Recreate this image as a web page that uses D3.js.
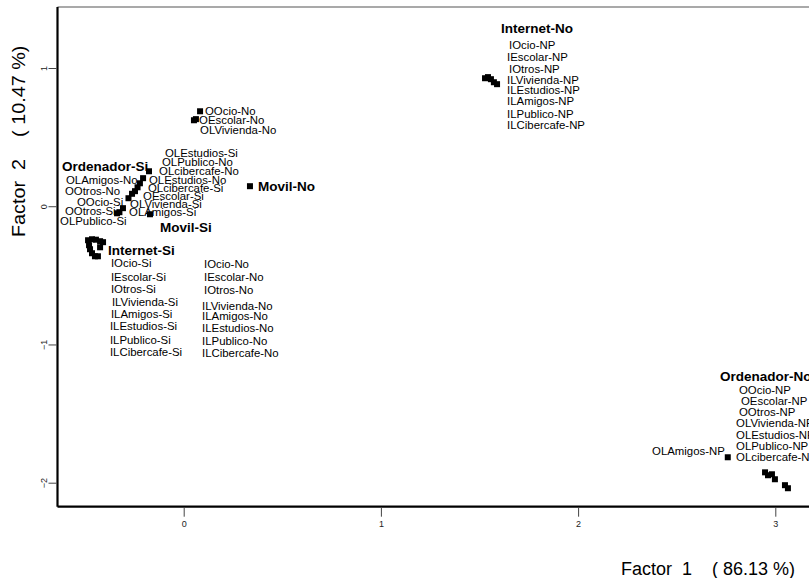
<!DOCTYPE html>
<html><head><meta charset="utf-8">
<script src="https://cdn.jsdelivr.net/npm/d3@7"></script>
<style>
html,body{margin:0;padding:0;background:#fff;}
svg{display:block;font-family:"Liberation Sans",Arial,sans-serif;}
</style></head>
<body><div id="chart"></div>
<script>
// ---- data: MCA coordinates (Factor 1, Factor 2) ----
const pointNames = ["OOcio-No","OEscolar-No","OLVivienda-No","Ordenador-Si","OLEstudios-No","OLPublico-No","OLcibercafe-No","OLEstudios-Si","OLcibercafe-Si","OEscolar-Si","OLVivienda-Si","OOtros-Si","OOcio-Si","Movil-Si","Movil-No",
 "Internet-Si","IOcio-Si","IEscolar-Si","IOtros-Si","ILVivienda-Si","ILAmigos-Si","ILEstudios-Si","ILPublico-Si","ILCibercafe-Si","IOcio-No","IEscolar-No",
 "Internet-No","IOcio-NP","IEscolar-NP","IOtros-NP","ILVivienda-NP",
 "OLAmigos-NP","Ordenador-No","OOcio-NP","OEscolar-NP","OOtros-NP","OLVivienda-NP","OLPublico-NP"];
const factor1 = [0.083,0.052,0.062,-0.176,-0.206,-0.222,-0.234,-0.247,-0.262,-0.280,-0.308,-0.326,-0.338,-0.171,0.336,
 -0.485,-0.465,-0.445,-0.424,-0.409,-0.480,-0.475,-0.465,-0.450,-0.435,-0.424,
 1.528,1.543,1.558,1.573,1.589,
 2.759,2.948,2.963,2.983,2.998,3.049,3.064];
const factor2 = [0.687,0.622,0.630,0.253,0.203,0.166,0.137,0.109,0.090,0.058,-0.014,-0.043,-0.051,-0.058,0.145,
 -0.246,-0.239,-0.242,-0.253,-0.260,-0.282,-0.311,-0.340,-0.362,-0.362,-0.297,
 0.926,0.934,0.919,0.897,0.883,
 -1.816,-1.925,-1.946,-1.939,-1.975,-2.018,-2.040];

// ---- label texts and their anchor coordinates (in factor units) ----
const labelTexts = ["OOcio-No","OEscolar-No","OLVivienda-No","OLEstudios-Si","OLPublico-No","OLcibercafe-No","OLEstudios-No","OLcibercafe-Si","OEscolar-Si","OLVivienda-Si","OLAmigos-Si",
 "Ordenador-Si","OLAmigos-No","OOtros-No","OOcio-Si","OOtros-Si","OLPublico-Si","Movil-Si","Movil-No",
 "Internet-Si","IOcio-Si","IEscolar-Si","IOtros-Si","ILVivienda-Si","ILAmigos-Si","ILEstudios-Si","ILPublico-Si","ILCibercafe-Si",
 "IOcio-No","IEscolar-No","IOtros-No","ILVivienda-No","ILAmigos-No","ILEstudios-No","ILPublico-No","ILCibercafe-No",
 "Internet-No","IOcio-NP","IEscolar-NP","IOtros-NP","ILVivienda-NP","ILEstudios-NP","ILAmigos-NP","ILPublico-NP","ILCibercafe-NP",
 "Ordenador-No","OOcio-NP","OEscolar-NP","OOtros-NP","OLVivienda-NP","OLEstudios-NP","OLPublico-NP","OLcibercafe-NP","OLAmigos-NP"];
const labelF1 = [0.108,0.078,0.083,-0.095,-0.110,-0.125,-0.176,-0.181,-0.206,-0.272,-0.277,
 -0.617,-0.597,-0.602,-0.541,-0.602,-0.627,-0.120,0.377,
 -0.384,-0.369,-0.369,-0.369,-0.364,-0.369,-0.374,-0.374,-0.374,
 0.103,0.103,0.103,0.093,0.093,0.093,0.093,0.093,
 1.609,1.650,1.640,1.650,1.640,1.640,1.640,1.640,1.640,
 2.720,2.816,2.826,2.816,2.801,2.801,2.801,2.801,2.375];
const labelF2 = [0.687,0.622,0.550,0.384,0.318,0.253,0.188,0.130,0.072,0.014,-0.043,
 0.289,0.188,0.109,0.029,-0.036,-0.109,-0.152,0.145,
 -0.318,-0.412,-0.514,-0.601,-0.695,-0.781,-0.868,-0.970,-1.056,
 -0.420,-0.514,-0.608,-0.724,-0.796,-0.883,-0.977,-1.064,
 1.288,1.165,1.078,0.991,0.912,0.839,0.760,0.666,0.586,
 -1.230,-1.331,-1.411,-1.491,-1.570,-1.657,-1.737,-1.816,-1.773];
const boldLabels = ["Ordenador-Si","Ordenador-No","Internet-Si","Internet-No","Movil-Si","Movil-No"];

const xTicks = [0,1,2,3];
const yTicks = [-2,-1,0,1];
const xTitleParts = ["Factor","1","( 86.13 %)"];
const yTitleParts = ["Factor","2","( 10.47 %)"];

// ---- layout ----
const W = 809, H = 578;
const x = d3.scaleLinear().domain([0,3]).range([183.7,775.3]);
const y = d3.scaleLinear().domain([-2,1]).range([482.7,68]);
const frame = {left:57.5, top:7, bottom:506.7, right:840};

const svg = d3.select("#chart").append("svg").attr("width",W).attr("height",H);
svg.append("rect").attr("width",W).attr("height",H).attr("fill","#fff");

// frame
svg.append("line").attr("x1",frame.left).attr("x2",frame.right).attr("y1",frame.top).attr("y2",frame.top)
  .attr("stroke","#555").attr("stroke-width",1.2);
svg.append("line").attr("x1",frame.left).attr("x2",frame.left).attr("y1",frame.top).attr("y2",frame.bottom)
  .attr("stroke","#000").attr("stroke-width",2.2);
svg.append("line").attr("x1",frame.left).attr("x2",frame.right).attr("y1",frame.bottom).attr("y2",frame.bottom)
  .attr("stroke","#000").attr("stroke-width",2.2);

// x axis
const xAxis = d3.axisBottom(x).tickValues(xTicks).tickSize(9).tickSizeOuter(0).tickPadding(4).tickFormat(d3.format("d"));
const gx = svg.append("g").attr("transform",`translate(0,${frame.bottom+1})`).call(xAxis);
gx.select(".domain").remove();
gx.selectAll("line").attr("stroke","#444");
gx.selectAll("text").attr("font-size",9).attr("fill","#222").attr("font-family","Liberation Sans Narrow, Liberation Sans, Arial");

// y axis
const yAxis = d3.axisLeft(y).tickValues(yTicks).tickSize(8).tickSizeOuter(0).tickPadding(3).tickFormat(d3.format("d"));
const gy = svg.append("g").attr("transform",`translate(${frame.left-1},0)`).call(yAxis);
gy.select(".domain").remove();
gy.selectAll("line").attr("stroke","#444");
gy.selectAll("text").attr("font-size",9).attr("fill","#222")
  .attr("font-family","Liberation Sans Narrow, Liberation Sans, Arial")
  .attr("text-anchor","middle").attr("x",null).attr("dy",null)
  .attr("transform","translate(-13,0) rotate(-90)")
  .attr("dominant-baseline","central");

// titles (pieces spaced like the original)
const titleOffsets = [0, 61, 91];
const xt = svg.append("g").attr("transform","translate(621,575)");
xt.selectAll("text").data(xTitleParts).join("text")
  .attr("x",(d,i)=>titleOffsets[i]).attr("font-size",18).attr("fill","#000").text(d=>d);
const yt = svg.append("g").attr("transform","translate(25,237) rotate(-90) scale(1.1,1)");
yt.selectAll("text").data(yTitleParts).join("text")
  .attr("x",(d,i)=>titleOffsets[i]).attr("font-size",18).attr("fill","#000").text(d=>d);

// points
const pts = pointNames.map((n,i)=>({name:n, f1:factor1[i], f2:factor2[i]}));
const sz = 6;
svg.append("g").selectAll("rect").data(pts).join("rect")
  .attr("x",d=>x(d.f1)-sz/2).attr("y",d=>y(d.f2)-sz/2)
  .attr("width",sz).attr("height",sz).attr("fill","#000");

// labels
const labs = labelTexts.map((t,i)=>({text:t, f1:labelF1[i], f2:labelF2[i], bold:boldLabels.includes(t)}));
svg.append("g").selectAll("text").data(labs).join("text")
  .attr("x",d=>x(d.f1)).attr("y",d=>y(d.f2))
  .attr("dominant-baseline","central")
  .attr("font-size",d=>d.bold?13.5:11.4)
  .attr("font-weight",d=>d.bold?"bold":"normal")
  .attr("fill","#000")
  .text(d=>d.text);
</script></body></html>
